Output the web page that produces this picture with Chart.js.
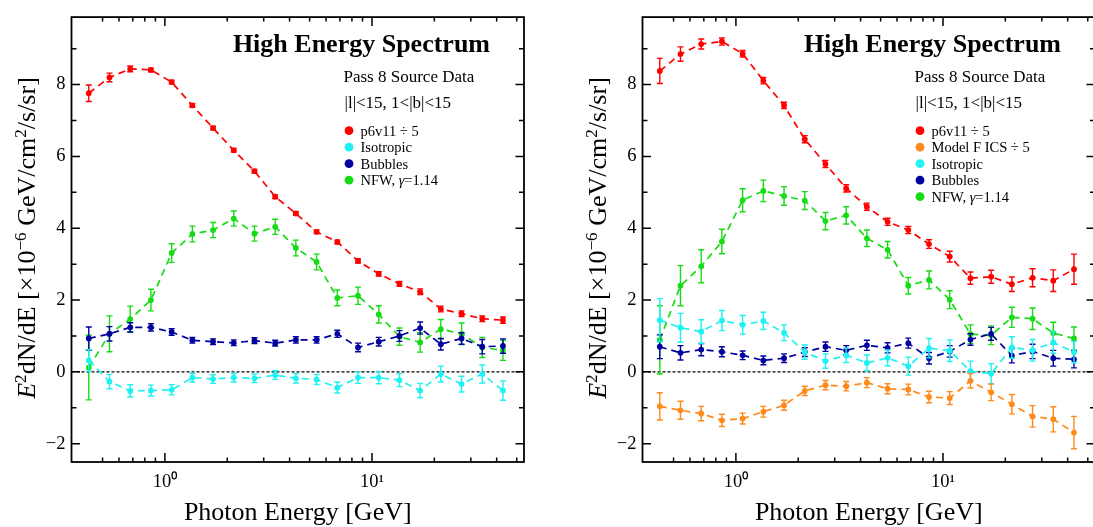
<!DOCTYPE html>
<html>
<head>
<meta charset="utf-8">
<script src="https://cdn.jsdelivr.net/npm/chart.js@4.4.1/dist/chart.umd.min.js"></script>
<style>
  html, body { margin: 0; padding: 0; background: #fff; overflow: hidden; }
  #wrap { position: relative; width: 1093px; height: 527px; overflow: hidden; }
  canvas { position: absolute; top: 0; }
  #left { left: 0; }
  #right { left: 571px; }
</style>
</head>
<body>
<div id="wrap">
  <canvas id="left" width="571" height="527"></canvas>
  <canvas id="right" width="571" height="527"></canvas>
</div>
<script>
// photon energy bin centres (GeV), shared by both panels
const energies = [0.429, 0.540, 0.680, 0.856, 1.078, 1.357, 1.708, 2.150, 2.707, 3.408, 4.290,
                  5.401, 6.800, 8.560, 10.78, 13.57, 17.08, 21.50, 27.07, 34.08, 42.90];

const xTickLabels = { 1: "10\u2070", 10: "10\u00B9" };
const yTickLabels = [-2, 0, 2, 4, 6, 8];

// left panel
const leftP6v11 = [7.76, 8.20, 8.44, 8.41, 8.07, 7.42, 6.79, 6.17, 5.59, 4.88, 4.41, 3.90, 3.62, 3.09, 2.73, 2.45, 2.23, 1.75, 1.62, 1.48, 1.44];
const leftP6v11Err = [0.23, 0.12, 0.08, 0.05, 0.05, 0.05, 0.05, 0.05, 0.05, 0.05, 0.05, 0.05, 0.05, 0.06, 0.06, 0.07, 0.08, 0.08, 0.08, 0.08, 0.09];
const leftIso = [0.32, -0.27, -0.53, -0.52, -0.50, -0.16, -0.20, -0.16, -0.18, -0.09, -0.18, -0.21, -0.44, -0.16, -0.16, -0.23, -0.52, -0.06, -0.34, -0.06, -0.52];
const leftIsoErr = [0.30, 0.20, 0.17, 0.15, 0.14, 0.12, 0.12, 0.12, 0.12, 0.12, 0.13, 0.14, 0.15, 0.16, 0.17, 0.18, 0.20, 0.22, 0.22, 0.25, 0.27];
const leftBubbles = [0.93, 1.06, 1.24, 1.24, 1.11, 0.88, 0.84, 0.81, 0.87, 0.80, 0.89, 0.89, 1.06, 0.68, 0.84, 1.00, 1.22, 0.77, 0.93, 0.70, 0.72];
const leftBubblesErr = [0.32, 0.20, 0.13, 0.10, 0.09, 0.08, 0.08, 0.08, 0.08, 0.08, 0.09, 0.09, 0.10, 0.12, 0.12, 0.15, 0.17, 0.16, 0.16, 0.20, 0.20];
const leftNFW = [0.12, 1.06, 1.47, 2.00, 3.31, 3.84, 3.95, 4.27, 3.85, 4.04, 3.45, 3.06, 2.06, 2.12, 1.60, 0.98, 0.82, 1.19, 1.06, 0.68, 0.60];
const leftNFWErr = [0.90, 0.50, 0.36, 0.30, 0.26, 0.22, 0.21, 0.21, 0.21, 0.21, 0.22, 0.22, 0.22, 0.24, 0.24, 0.24, 0.27, 0.27, 0.30, 0.28, 0.28];

// right panel
const rightP6v11 = [8.38, 8.85, 9.13, 9.20, 8.86, 8.11, 7.42, 6.48, 5.79, 5.11, 4.60, 4.18, 3.95, 3.56, 3.21, 2.61, 2.65, 2.44, 2.62, 2.54, 2.86];
const rightP6v11Err = [0.35, 0.20, 0.14, 0.10, 0.09, 0.09, 0.09, 0.10, 0.10, 0.10, 0.10, 0.10, 0.10, 0.12, 0.15, 0.17, 0.18, 0.20, 0.25, 0.30, 0.42];
const rightICS = [-0.96, -1.07, -1.16, -1.35, -1.30, -1.11, -0.93, -0.53, -0.37, -0.40, -0.30, -0.47, -0.49, -0.70, -0.73, -0.25, -0.57, -0.90, -1.24, -1.32, -1.69];
const rightICSErr = [0.38, 0.25, 0.20, 0.17, 0.15, 0.15, 0.14, 0.13, 0.13, 0.13, 0.14, 0.14, 0.15, 0.16, 0.18, 0.20, 0.23, 0.27, 0.30, 0.35, 0.45];
const rightIso = [1.44, 1.23, 1.12, 1.43, 1.31, 1.42, 1.09, 0.55, 0.30, 0.46, 0.25, 0.39, 0.16, 0.66, 0.59, 0.02, -0.05, 0.68, 0.60, 0.82, 0.55];
const rightIsoErr = [0.60, 0.40, 0.33, 0.28, 0.26, 0.24, 0.22, 0.20, 0.20, 0.20, 0.22, 0.22, 0.25, 0.27, 0.30, 0.28, 0.28, 0.30, 0.30, 0.30, 0.30];
const rightBubbles = [0.70, 0.53, 0.62, 0.56, 0.46, 0.32, 0.38, 0.55, 0.70, 0.60, 0.74, 0.67, 0.80, 0.38, 0.57, 0.90, 1.06, 0.45, 0.57, 0.38, 0.35];
const rightBubblesErr = [0.33, 0.20, 0.17, 0.14, 0.12, 0.12, 0.12, 0.12, 0.13, 0.13, 0.14, 0.14, 0.14, 0.16, 0.16, 0.16, 0.18, 0.20, 0.20, 0.22, 0.24];
const rightNFW = [0.89, 2.40, 2.94, 3.63, 4.78, 5.04, 4.90, 4.77, 4.20, 4.36, 3.72, 3.40, 2.40, 2.56, 2.01, 1.05, 1.02, 1.52, 1.48, 1.08, 0.93];
const rightNFWErr = [0.95, 0.56, 0.46, 0.34, 0.32, 0.30, 0.26, 0.25, 0.24, 0.24, 0.23, 0.23, 0.23, 0.25, 0.25, 0.26, 0.26, 0.28, 0.30, 0.30, 0.32];

const FONT = "'Liberation Serif', 'Times New Roman', serif";
const RED = "#ff0000", ORANGE = "#ff8a1c", CYAN = "#1ef2f2", BLUE = "#00009e", GREEN = "#16dc16";

// draws text with italic / superscript pieces
function richText(ctx, segs, size, x, y, align) {
  const fontFor = s => (s.italic ? "italic " : "") + (s.sup ? size * 0.66 : size) + "px " + FONT;
  let total = 0;
  segs.forEach(s => { ctx.font = fontFor(s); total += ctx.measureText(s.t).width; });
  let cx = align === "center" ? x - total / 2 : x;
  ctx.textAlign = "left";
  segs.forEach(s => {
    ctx.font = fontFor(s);
    ctx.fillText(s.t, cx, s.sup ? y - size * 0.36 : y);
    cx += ctx.measureText(s.t).width;
  });
}

function niceLog(v) {
  const p = Math.pow(10, Math.floor(Math.log10(v) + 1e-9));
  const m = v / p;
  return Math.abs(m - Math.round(m)) < 1e-6 ? Math.round(m) : 0;
}

const framePlugin = {
  id: "frame",
  beforeDatasetsDraw(chart) {
    const ctx = chart.ctx, a = chart.chartArea, y0 = chart.scales.y.getPixelForValue(0);
    ctx.save();
    ctx.strokeStyle = "#000";
    ctx.lineWidth = 1.2;
    ctx.setLineDash([3, 2]);
    ctx.beginPath(); ctx.moveTo(a.left, y0); ctx.lineTo(a.right, y0); ctx.stroke();
    ctx.restore();
  },
  afterDraw(chart) {
    const ctx = chart.ctx, a = chart.chartArea, xs = chart.scales.x, ys = chart.scales.y;
    ctx.save();
    ctx.strokeStyle = "#000";
    ctx.lineWidth = 1.5;
    ctx.beginPath();
    xs.ticks.forEach(t => {
      const m = niceLog(t.value);
      if (!m) return;
      const px = xs.getPixelForValue(t.value);
      const len = m === 1 ? 9 : 4.5;
      ctx.moveTo(px, a.bottom); ctx.lineTo(px, a.bottom - len);
      ctx.moveTo(px, a.top); ctx.lineTo(px, a.top + len);
    });
    ys.ticks.forEach(t => {
      if (!Number.isInteger(t.value)) return;
      const py = ys.getPixelForValue(t.value);
      const len = t.value % 2 === 0 ? 8.5 : 5;
      ctx.moveTo(a.left, py); ctx.lineTo(a.left + len, py);
      ctx.moveTo(a.right, py); ctx.lineTo(a.right - len, py);
    });
    ctx.stroke();
    ctx.lineWidth = 1.8;
    ctx.strokeRect(a.left, a.top, a.right - a.left, a.bottom - a.top);
    ctx.restore();
  }
};

const errorBarPlugin = {
  id: "errorBars",
  afterDatasetDraw(chart, args) {
    const ds = chart.data.datasets[args.index];
    const ys = chart.scales.y, ctx = chart.ctx;
    ctx.save();
    ctx.strokeStyle = ds.borderColor;
    ctx.lineWidth = 1.4;
    ctx.beginPath();
    args.meta.data.forEach((pt, i) => {
      const v = ds.data[i].y, e = ds.errors[i];
      const top = ys.getPixelForValue(v + e), bot = ys.getPixelForValue(v - e);
      ctx.moveTo(pt.x, top); ctx.lineTo(pt.x, bot);
      ctx.moveTo(pt.x - 3, top); ctx.lineTo(pt.x + 3, top);
      ctx.moveTo(pt.x - 3, bot); ctx.lineTo(pt.x + 3, bot);
    });
    ctx.stroke();
    ctx.restore();
  }
};

const textPlugin = {
  id: "panelText",
  afterDraw(chart) {
    const ctx = chart.ctx, a = chart.chartArea;
    ctx.save();
    ctx.fillStyle = "#000";
    ctx.textBaseline = "alphabetic";
    ctx.font = "bold 26px " + FONT;
    ctx.textAlign = "right";
    ctx.fillText("High Energy Spectrum", a.right - 34, 52);
    ctx.textAlign = "left";
    ctx.font = "17px " + FONT;
    ctx.fillText("Pass 8 Source Data", a.left + 272, 82);
    ctx.fillText("|l|<15, 1<|b|<15", a.left + 273, 108);

    chart.data.datasets.forEach((ds, i) => {
      const cy = 130.7 + i * 16.5;
      ctx.fillStyle = ds.borderColor;
      ctx.beginPath(); ctx.arc(a.left + 277.5, cy, 4.4, 0, Math.PI * 2); ctx.fill();
      ctx.fillStyle = "#000";
      const parts = ds.label.split("\u03B3");
      const segs = parts.length > 1
        ? [{ t: parts[0] }, { t: "\u03B3", italic: true }, { t: parts[1] }]
        : [{ t: ds.label }];
      richText(ctx, segs, 14.5, a.left + 289, cy + 4.8, "left");
    });

    // axis titles
    ctx.fillStyle = "#000";
    ctx.textAlign = "center";
    ctx.font = "26px " + FONT;
    ctx.fillText("Photon Energy [GeV]", (a.left + a.right) / 2, 520);

    ctx.translate(35, 238);
    ctx.rotate(-Math.PI / 2);
    richText(ctx, [
      { t: "E", italic: true }, { t: "2", sup: true }, { t: "dN/dE [\u00D710" },
      { t: "\u22126", sup: true }, { t: " GeV/cm" }, { t: "2", sup: true }, { t: "/s/sr]" }
    ], 26, 0, 0, "center");
    ctx.restore();
  }
};

function makePanel(id, series) {
  const datasets = series.map(s => ({
    label: s.label,
    data: energies.map((e, i) => ({ x: e, y: s.values[i] })),
    errors: s.errors,
    borderColor: s.color,
    backgroundColor: s.color,
    borderWidth: 1.7,
    borderDash: [7, 5],
    pointRadius: 2.9,
    pointBorderWidth: 0,
    pointHoverRadius: 2.9,
    tension: 0,
    fill: false
  }));
  return new Chart(document.getElementById(id), {
    type: "line",
    data: { datasets },
    options: {
      responsive: false,
      animation: false,
      events: [],
      layout: { padding: { top: 9, right: 47, bottom: 0, left: 0 } },
      plugins: { legend: { display: false }, tooltip: { enabled: false } },
      scales: {
        x: {
          type: "logarithmic",
          min: 0.354,
          max: 54.2,
          grid: { display: false, drawTicks: false },
          border: { display: false },
          ticks: {
            autoSkip: false, maxRotation: 0, padding: 9, color: "#000",
            font: { family: FONT, size: 18.5 },
            callback: v => xTickLabels[Math.round(v * 1000) / 1000] || ""
          },
          afterFit: s => { s.height = 65; }
        },
        y: {
          min: -2.51,
          max: 9.88,
          grid: { display: false, drawTicks: false },
          border: { display: false },
          ticks: {
            stepSize: 1, includeBounds: false, padding: 6, color: "#000",
            font: { family: FONT, size: 18.5 },
            callback: v => yTickLabels.includes(v) ? (v < 0 ? "\u2212" + Math.abs(v) : String(v)) : ""
          },
          afterFit: s => { s.width = 71.5; }
        }
      }
    },
    plugins: [framePlugin, errorBarPlugin, textPlugin]
  });
}

makePanel("left", [
  { label: "p6v11 \u00F7 5", values: leftP6v11, errors: leftP6v11Err, color: RED },
  { label: "Isotropic", values: leftIso, errors: leftIsoErr, color: CYAN },
  { label: "Bubbles", values: leftBubbles, errors: leftBubblesErr, color: BLUE },
  { label: "NFW, \u03B3=1.14", values: leftNFW, errors: leftNFWErr, color: GREEN }
]);

makePanel("right", [
  { label: "p6v11 \u00F7 5", values: rightP6v11, errors: rightP6v11Err, color: RED },
  { label: "Model F ICS \u00F7 5", values: rightICS, errors: rightICSErr, color: ORANGE },
  { label: "Isotropic", values: rightIso, errors: rightIsoErr, color: CYAN },
  { label: "Bubbles", values: rightBubbles, errors: rightBubblesErr, color: BLUE },
  { label: "NFW, \u03B3=1.14", values: rightNFW, errors: rightNFWErr, color: GREEN }
]);
</script>
</body>
</html>
